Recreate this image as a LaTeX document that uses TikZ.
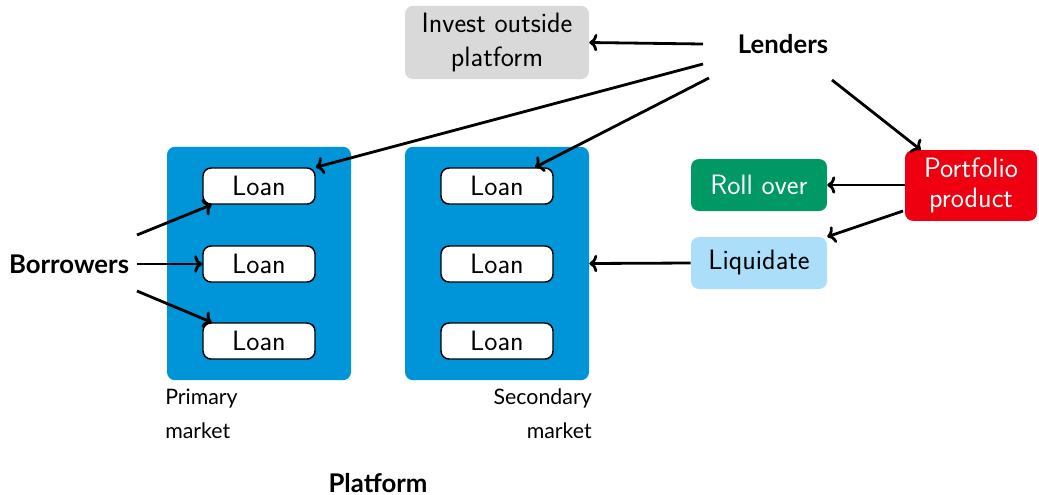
\documentclass[tikz,border=0pt]{standalone}
\usepackage{fontspec}
\newfontfamily\latofont{Lato}
\usetikzlibrary{arrows.meta}
\definecolor{mktblue}{HTML}{0094D8}
\definecolor{investgray}{HTML}{D9D9D9}
\definecolor{prodred}{HTML}{EE0011}
\definecolor{rollgreen}{HTML}{009965}
\definecolor{liqblue}{HTML}{ABDFF9}
\tikzset{
  mainfont/.style={font=\sffamily\fontsize{21}{26}\selectfont},
  market/.style={fill=mktblue, rounded corners=6pt, minimum width=138pt, minimum height=175pt, inner sep=0pt},
  loanbox/.style={draw=black, line width=1.1pt, fill=white, rounded corners=6pt, minimum width=84pt, minimum height=27pt, inner sep=0pt, mainfont},
  actbox/.style={rounded corners=6pt, minimum width=102pt, minimum height=39pt, inner sep=0pt, mainfont, align=center},
  actor/.style={font=\latofont\bfseries\fontsize{19.3}{23}\selectfont},
  mktlabel/.style={font=\latofont\fontsize{16}{25}\selectfont},
  conn/.style={line width=2.1pt, -{To[length=6pt,width=13pt,line width=2.1pt]}},
}
\begin{document}
\begin{tikzpicture}[x=0.75pt,y=-0.75pt]
\useasboundingbox (0,0) rectangle (1039,494);
% market panels
\node[market] (pm) at (259,263.5) {};
\node[market] (sm) at (497,263.5) {};
% loans
\node[loanbox] (p1) at (259,186) {Loan};
\node[loanbox] (p2) at (259,264) {Loan};
\node[loanbox] (p3) at (259,341) {Loan};
\node[loanbox] (s1) at (497,186) {Loan};
\node[loanbox] (s2) at (497,264) {Loan};
\node[loanbox] (s3) at (497,341) {Loan};
% labels
\node[mktlabel, anchor=north west, align=left, inner sep=0pt] (pml) at (165,389) {Primary\\market};
\node[mktlabel, anchor=north east, align=right, inner sep=0pt] (sml) at (592,389) {Secondary\\market};
\node[actor, anchor=base, inner sep=0pt] (plat) at (378,492) {Platform};
% actors
\node[actor] (bor) at (69,264) {Borrowers};
\node[actor] (len) at (783,44) {Lenders};
% action boxes
\node[actbox, fill=investgray, minimum width=138pt, minimum height=55pt, font=\sffamily\fontsize{21}{25}\selectfont] (inv) at (497,42.5) {Invest outside\\platform};
\node[actbox, fill=prodred, text=white, minimum width=99pt, minimum height=53pt, font=\sffamily\fontsize{21}{23}\selectfont] (prod) at (971,185.5) {Portfolio\\product};
\node[actbox, fill=rollgreen, text=white] (roll) at (759,185) {Roll over};
\node[actbox, fill=liqblue] (liq) at (759,263) {Liquidate};
% coordinates for free ends
\coordinate (b1) at (137,235);
\coordinate (b2) at (137,264);
\coordinate (b3) at (137,291);
\coordinate (l0) at (703,44);
\coordinate (l1) at (703,64);
\coordinate (l2) at (709,78);
\coordinate (l3) at (832,80);
\coordinate (pr2) at (903,211);
% connectors
\draw[conn] (b1) -- ([xshift=7pt]p1.south west);
\draw[conn] (b2) -- (p2.west);
\draw[conn] (b3) -- ([xshift=7pt]p3.north west);
\draw[conn] (l0) -- (inv.east);
\draw[conn] (l1) -- (p1.north east);
\draw[conn] (l2) -- ([xshift=-14pt]s1.north east);
\draw[conn] (l3) -- ([xshift=12pt]prod.north west);
\draw[conn] (prod.west |- roll.east) -- (roll.east);
\draw[conn] (pr2) -- (liq.north east);
\draw[conn] (liq.west) -- (sm.east);
\end{tikzpicture}
\end{document}
